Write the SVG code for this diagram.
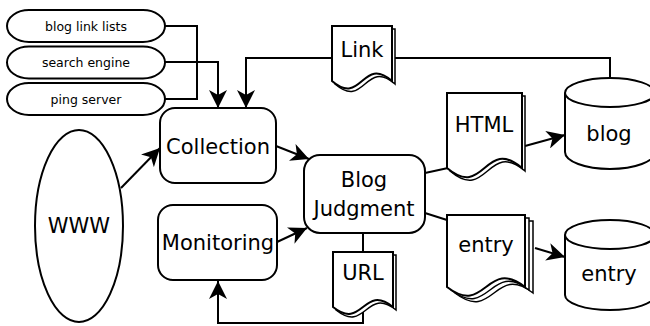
<svg xmlns="http://www.w3.org/2000/svg" width="650" height="326" viewBox="0 0 650 326">
  <style>
    .shape { fill: #fff; stroke: #000; stroke-width: 2; }
    .sheet { fill: #fff; stroke: #000; stroke-width: 1.5; }
    .line { fill: none; stroke: #000; stroke-width: 2; }
    .arrow { fill: none; stroke: #000; stroke-width: 2; marker-end: url(#head); }
    .big { font-family: "DejaVu Sans", "Noto Sans", sans-serif; font-size: 21px; text-anchor: middle; fill: #000; }
    .small { font-family: "DejaVu Sans", "Noto Sans", sans-serif; font-size: 12.5px; text-anchor: middle; dominant-baseline: central; fill: #000; }
  </style>
  <defs>
    <marker id="head" markerUnits="userSpaceOnUse" markerWidth="19" markerHeight="18" refX="18" refY="9" orient="auto">
      <path d="M0,0 L18,9 L0,18 L5,9 Z" fill="#000"/>
    </marker>
  </defs>

  <rect width="650" height="326" fill="#fff"/>

  <!-- connectors -->
  <g id="connectors">
    <path class="line" d="M165,26 H197 V99 H165"/>
    <path class="arrow" d="M165,62 H218 V108"/>
    <path class="arrow" d="M332,58 H246 V108"/>
    <path class="line" d="M395,58 H610 V78"/>
    <path class="arrow" d="M121,188 L160,148"/>
    <path class="arrow" d="M276,146 L309,159"/>
    <path class="arrow" d="M277,242 L307,228"/>
    <path class="line" d="M425,173 L448,168"/>
    <path class="arrow" d="M525,146 L565,135"/>
    <path class="line" d="M425,213 L447,220"/>
    <path class="arrow" d="M535,248 L565,257"/>
    <path class="line" d="M363,233 V252"/>
    <path class="arrow" d="M363,312 V323 H218 V281"/>
  </g>

  <!-- sources -->
  <g id="blog-link-lists">
    <rect class="shape" x="7" y="10" width="158" height="32" rx="22" ry="16"/>
    <text class="small" x="86" y="26">blog link lists</text>
  </g>
  <g id="search-engine">
    <rect class="shape" x="7" y="46.5" width="158" height="32" rx="22" ry="16"/>
    <text class="small" x="86" y="62.5">search engine</text>
  </g>
  <g id="ping-server">
    <rect class="shape" x="7" y="83" width="158" height="32" rx="22" ry="16"/>
    <text class="small" x="86" y="99">ping server</text>
  </g>

  <g id="www">
    <ellipse class="shape" cx="79" cy="226" rx="44" ry="96"/>
    <text class="big" x="79" y="233">WWW</text>
  </g>

  <!-- process boxes -->
  <g id="collection">
    <rect class="shape" x="160" y="108" width="116" height="75" rx="15"/>
    <text class="big" x="218" y="154">Collection</text>
  </g>
  <g id="monitoring">
    <rect class="shape" x="158" y="205" width="119" height="75" rx="15"/>
    <text class="big" x="218" y="250">Monitoring</text>
  </g>
  <g id="blog-judgment">
    <rect class="shape" x="304" y="155" width="121" height="78" rx="16"/>
    <text class="big" x="364" y="187">Blog</text>
    <text class="big" x="364" y="216">Judgment</text>
  </g>

  <!-- documents: back sheets first, front sheet on top -->
  <g id="link">
    <path class="sheet" d="M335,29 H395 V84 C365,58 365,110 335,84 Z"/>
    <path class="shape" d="M332,26 H392 V81 C362,55 362,107 332,81 Z"/>
    <text class="big" x="362" y="57">Link</text>
  </g>
  <g id="url">
    <path class="sheet" d="M336,255 H396 V310 C366,286 366,334 336,310 Z"/>
    <path class="shape" d="M333,252 H393 V307 C363,283 363,331 333,307 Z"/>
    <text class="big" x="363" y="280">URL</text>
  </g>
  <g id="html">
    <path class="sheet" d="M450,96 H525 V171 C487.5,139 487.5,203 450,171 Z"/>
    <path class="shape" d="M447,93 H522 V168 C484.5,136 484.5,200 447,168 Z"/>
    <text class="big" x="484" y="132">HTML</text>
  </g>
  <g id="entry-doc">
    <path class="sheet" d="M455,221 H533 V293 C494,263 494,323 455,293 Z"/>
    <path class="sheet" d="M451,218 H529 V290 C490,260 490,320 451,290 Z"/>
    <path class="shape" d="M447,215 H525 V287 C486,257 486,317 447,287 Z"/>
    <text class="big" x="486" y="252">entry</text>
  </g>

  <!-- stores -->
  <g id="blog-store">
    <path class="shape" d="M565,93 A45,15 0 0 1 655,93 V152 A45,17 0 0 1 565,152 Z"/>
    <path class="line" d="M565,93 A45,14 0 0 0 655,93"/>
    <text class="big" x="609" y="141">blog</text>
  </g>
  <g id="entry-store">
    <path class="shape" d="M565,235 A45,15 0 0 1 655,235 V295 A45,15 0 0 1 565,295 Z"/>
    <path class="line" d="M565,235 A45,14 0 0 0 655,235"/>
    <text class="big" x="609" y="281">entry</text>
  </g>
</svg>
